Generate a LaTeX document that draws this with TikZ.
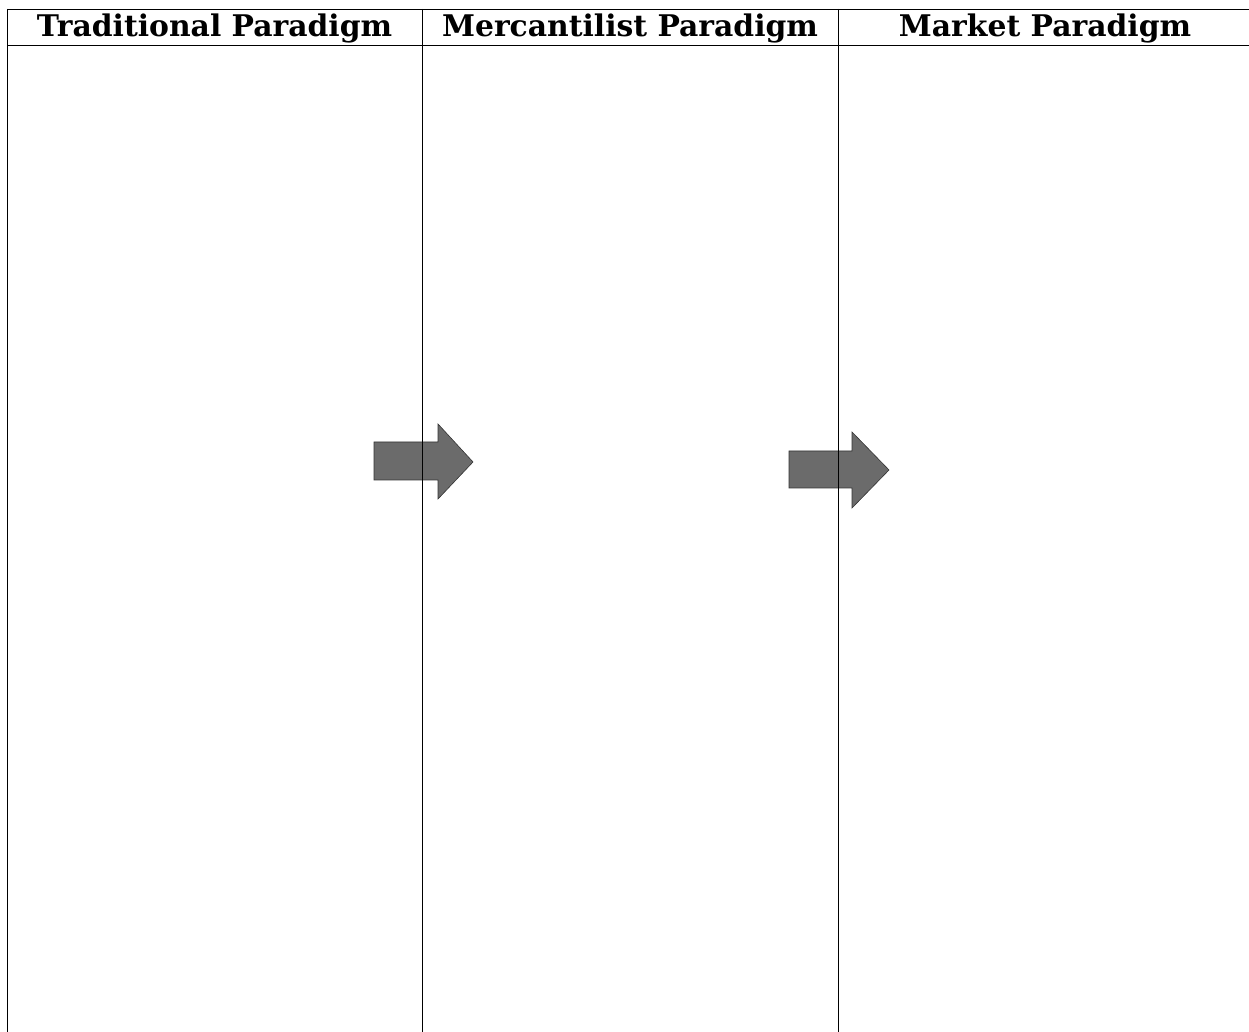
\documentclass[tikz,border=0pt]{standalone}
\usepackage{fontspec}
\setmainfont{DejaVu Serif}
\begin{document}
\begin{tikzpicture}[x=1pt,y=1pt,
  rule/.style={line width=0.9pt, black},
  hdr/.style={font=\fontsize{29.8}{32}\selectfont\bfseries, inner sep=0pt, anchor=base},
  bigarrow/.style={fill=black!58, draw=black!80, line width=0.6pt}]
\useasboundingbox (0,0) rectangle (1249,1032);
% arrows (y = 1032 - pixel y)
\filldraw[bigarrow] (374,590) -- (438,590) -- (438,608) -- (473,570) -- (438,533) -- (438,552) -- (374,552) -- cycle;
\filldraw[bigarrow] (789,581) -- (852,581) -- (852,600) -- (889,562) -- (852,524) -- (852,544) -- (789,544) -- cycle;
% table rules
\draw[rule] (7,1023) -- (1249,1023);
\draw[rule] (7,987) -- (1249,987);
\draw[rule] (7,1023) -- (7,0);
\draw[rule] (422,1023) -- (422,0);
\draw[rule] (838,1023) -- (838,0);
% headers
\node[hdr] (h1) at (214.5,995.5) {Traditional Paradigm};
\node[hdr] (h2) at (630,995.5) {Mercantilist Paradigm};
\node[hdr] (h3) at (1045,995.5) {Market Paradigm};
\end{tikzpicture}
\end{document}
